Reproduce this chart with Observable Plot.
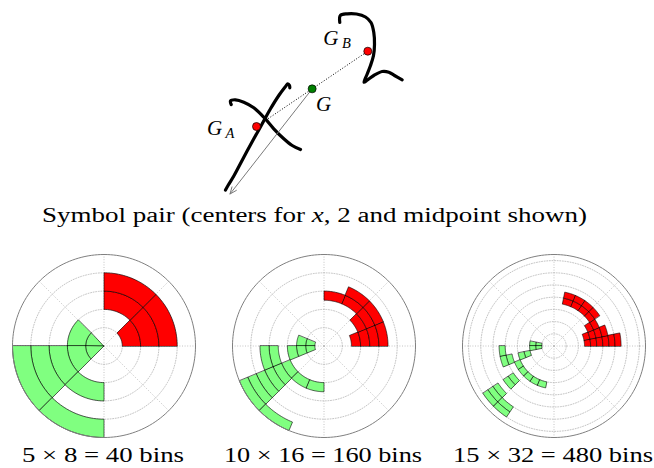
<!DOCTYPE html>
<html><head><meta charset="utf-8">
<script src="https://cdn.jsdelivr.net/npm/d3@7"></script>
<script src="https://cdn.jsdelivr.net/npm/@observablehq/plot@0.6"></script>
<style>
html,body{margin:0;padding:0;background:#fff;}
#root{position:relative;width:654px;height:468px;overflow:hidden;background:#fff;}
#root svg{position:absolute;overflow:visible;background:transparent;}
.lbl{position:absolute;white-space:nowrap;font-family:"Liberation Serif",serif;font-size:20px;line-height:1;color:#000;transform-origin:0 0;}
</style></head><body><div id="root"></div>
<script>
// ---------------- data ----------------
// hand-drawn symbol strokes (digitised pen samples, page units, y downward)
const strokeCrossUp = [[225,189.5],[227.8,184.5],[233.3,175.5],[243.3,156.7],[253.3,138.3],[261.7,123.3],[270,108.3],[278.3,95],[285,86],[287.3,83.3],[289,85],[289.3,87.3]];
const strokeCrossDown = [[230.7,104],[230,100.3],[235,99.3],[243.3,101.7],[253.3,107.3],[263.3,116.7],[273.3,128.3],[283.3,138.3],[291.7,145],[300,149]];
const strokeTwo = [[339.3,22],[339.8,15],[346.7,13.3],[356,13.5],[365,16.5],[370.5,22],[373.3,32],[374,44],[373,55],[370,65],[366.5,74],[363.5,81.7],[367,79.5],[373.3,75],[381.7,71],[388.3,71.7],[394,75],[401.7,79.3]];
const symbolStrokes = [strokeCrossUp, strokeCrossDown, strokeTwo];
const centerOfX = [256, 126];     // G_A
const centerOfTwo = [367.3, 50.7]; // G_B
const arrowTip = [229.5, 193.5];
const pointNames = ["G_A", "G_B", "G"];

// shape-context histograms: [angular bin k, radial bin j]
const radialBins = [5, 10, 15];
const angularBins = [8, 16, 32];
const ringSteps = [1, 2, 2];
const binLabels = ["5 × 8 = 40 bins", "10 × 16 = 160 bins", "15 × 32 = 480 bins"];
const redBins40 = [[0,1],[0,2],[0,3],[1,2],[1,3]];
const greenBins40 = [[3,0],[3,1],[4,0],[4,1],[4,2],[4,3],[4,4],[5,2],[5,4]];
const redBins160 = [[0,3],[0,4],[0,5],[0,6],[1,4],[1,5],[1,6],[2,5],[2,6],[3,5]];
const greenBins160 = [[7,1],[7,2],[8,1],[8,2],[8,3],[8,5],[8,6],[9,4],[9,5],[9,6],[9,7],[9,8],[9,9],[10,4],[10,9],[11,4]];
const redBins480 = [[0,5],[0,6],[0,7],[0,8],[0,9],[0,10],[1,5],[1,6],[1,7],[1,8],[2,6],[2,7],[3,7],[3,8],[4,7],[4,8],[5,7],[5,8],[6,7],[6,8]];
const greenBins480 = [[15,2],[15,3],[16,2],[16,3],[16,8],[17,4],[17,5],[17,7],[17,8],[18,6],[19,6],[19,8],[19,9],[19,11],[19,12],[19,13],[20,6],[20,12],[20,13],[21,6],[22,6]];
const redBins = [redBins40, redBins160, redBins480];
const greenBins = [greenBins40, greenBins160, greenBins480];

(function(){
// ---------------- layout ----------------
const root = document.getElementById("root");
const polarCX = [103, 323.3, 553.3], polarCY = 345, RPX = 91.5, PAD = 2;
const FONT = '"Liberation Serif", serif';

// ---------------- top panel ----------------
const midpoint = [(centerOfX[0]+centerOfTwo[0])/2, (centerOfX[1]+centerOfTwo[1])/2];
const pts = [centerOfX, centerOfTwo, midpoint].map((p,i)=>({name: pointNames[i], x:p[0], y:p[1], color: i<2 ? "#ff0000" : "#008000"}));
const strokeRows = symbolStrokes.flatMap((s,id)=>s.map(([x,y])=>({id,x,y})));
const labelOffsets = {G_A: [[-42,1.5],[-26.5,6.5]], G_B: [[-37,-13],[-21.5,-7.5]], G: [[11.5,15.5],null]};
const mainLabels = [], subLabels = [];
pts.forEach(p=>{
  const [m, s] = labelOffsets[p.name];
  mainLabels.push({x:p.x+m[0], y:p.y+m[1], t:"G"});
  if (s) subLabels.push({x:p.x+s[0], y:p.y+s[1], t:p.name.split("_")[1]});
});
const topPlot = Plot.plot({
  width: 654, height: 200, margin: 0,
  x: {domain:[0,654], range:[0,654], axis:null},
  y: {domain:[0,200], range:[0,200], axis:null},
  style: {background:"transparent", overflow:"visible"},
  marks: [
    Plot.line(strokeRows, {x:"x", y:"y", z:"id", stroke:"#000", strokeWidth:3.2, curve:"catmull-rom", strokeLinecap:"round"}),
    Plot.line([pts[0], pts[1]], {x:"x", y:"y", stroke:"#000", strokeWidth:1, strokeDasharray:"1,1.8", strokeLinecap:"butt"}),
    Plot.arrow([{x1:midpoint[0], y1:midpoint[1], x2:arrowTip[0], y2:arrowTip[1]}], {x1:"x1", y1:"y1", x2:"x2", y2:"y2", stroke:"#7a7a7a", strokeWidth:1, headLength:11, headAngle:45}),
    Plot.dot(pts, {x:"x", y:"y", r:4, fill:"color", stroke:"#000", strokeWidth:0.7}),
    Plot.text(mainLabels, {x:"x", y:"y", text:"t", fontSize:21, fontStyle:"italic", fontFamily:FONT, fill:"#000"}),
    Plot.text(subLabels, {x:"x", y:"y", text:"t", fontSize:14.5, fontStyle:"italic", fontFamily:FONT, fill:"#000"})
  ]
});
topPlot.style.left = "0px"; topPlot.style.top = "0px";
root.appendChild(topPlot);

// ---------------- polar histograms ----------------
const rad = a => a*Math.PI/180;
function circle(r, id){ return d3.range(0, 361, 2).map(a=>({id, x:r*Math.cos(rad(a)), y:r*Math.sin(rad(a))})); }
function sectors(bins, nA){
  return bins.flatMap(([k,j],id)=>{
    const a0 = k*360/nA, a1 = (k+1)*360/nA, n = 16, out = [];
    for (let s=0;s<=n;s++){ const a=rad(a0+(a1-a0)*s/n); out.push({id, x:(j+1)*Math.cos(a), y:(j+1)*Math.sin(a)}); }
    for (let s=n;s>=0;s--){ const a=rad(a0+(a1-a0)*s/n); out.push({id, x:j*Math.cos(a), y:j*Math.sin(a)}); }
    return out;
  });
}
radialBins.forEach((nR, p)=>{
  const nA = angularBins[p];
  const rings = d3.range(ringSteps[p], nR, ringSteps[p]).flatMap((r,i)=>circle(r,i));
  const spokes = d3.range(0,360,45).map(a=>({x1:0, y1:0, x2:nR*Math.cos(rad(a)), y2:nR*Math.sin(rad(a))}));
  const svg = Plot.plot({
    width: 2*RPX+2*PAD, height: 2*RPX+2*PAD, margin: PAD,
    x: {domain:[-nR,nR], axis:null}, y: {domain:[-nR,nR], axis:null},
    style: {background:"transparent", overflow:"visible"},
    marks: [
      Plot.line(rings, {x:"x", y:"y", z:"id", stroke:"#b5b5b5", strokeWidth:0.8, strokeDasharray:"1,1.6"}),
      Plot.link(spokes, {x1:"x1", y1:"y1", x2:"x2", y2:"y2", stroke:"#b5b5b5", strokeWidth:0.8, strokeDasharray:"1,1.6"}),
      Plot.line(sectors(redBins[p], nA), {x:"x", y:"y", z:"id", fill:"#ff0000", stroke:"#000", strokeWidth:0.6, curve:"linear-closed", strokeLinejoin:"miter"}),
      Plot.line(sectors(greenBins[p], nA), {x:"x", y:"y", z:"id", fill:"#80ff80", stroke:"#000", strokeWidth:0.6, curve:"linear-closed", strokeLinejoin:"miter"}),
      Plot.line(circle(nR,0), {x:"x", y:"y", stroke:"#7f7f7f", strokeWidth:1})
    ]
  });
  svg.style.left = (polarCX[p]-RPX-PAD)+"px";
  svg.style.top = (polarCY-RPX-PAD)+"px";
  root.appendChild(svg);
});

// ---------------- captions ----------------
function caption(html, cx, topY, target){
  const d = document.createElement("div");
  d.className = "lbl"; d.innerHTML = html; d.style.top = topY+"px"; d.style.left = "0px";
  root.appendChild(d);
  const w = d.getBoundingClientRect().width;
  d.style.transform = "scaleX(" + (target/w) + ")";
  d.style.left = (cx - target/2)+"px";
}
caption('Symbol pair (centers for <i>x</i>, 2 and midpoint shown)', 314.6, 204.5, 545);
const labelWidths = [162, 198, 200];
binLabels.forEach((t,p)=>caption(t, polarCX[p], 445, labelWidths[p]));
})();
</script></body></html>
